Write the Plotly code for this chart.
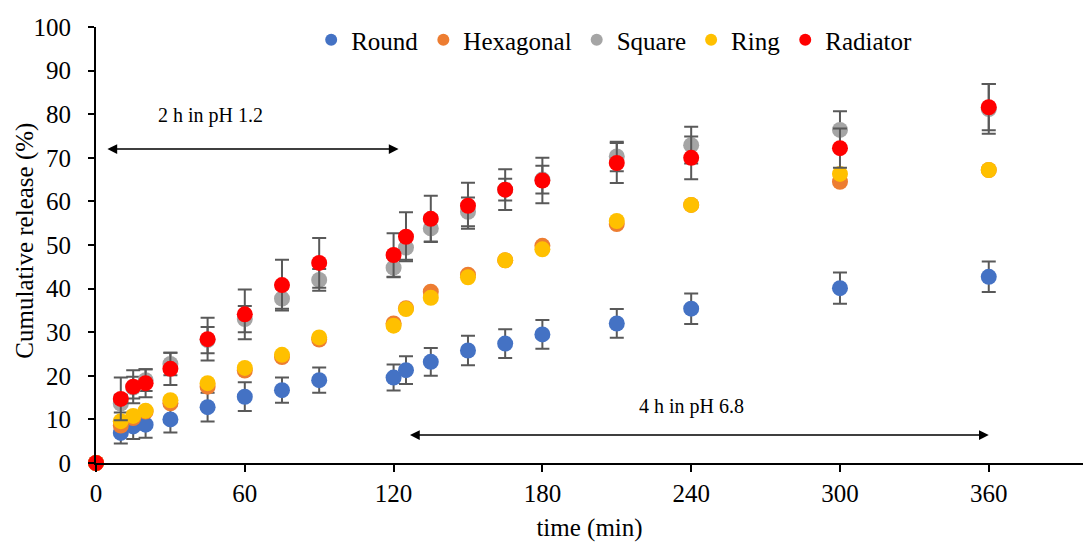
import plotly.graph_objects as go

# Sampling times (min)
time_min = [0, 10, 15, 20, 30, 45, 60, 75, 90, 120, 125, 135, 150, 165, 180, 210, 240, 300, 360]

# Cumulative release (%) per tablet geometry
round_rel = [0, 6.9, 8.4, 8.8, 10.0, 12.8, 15.2, 16.7, 19.0, 19.6, 21.3, 23.2, 25.8, 27.4, 29.5, 32.0, 35.4, 40.1, 42.7]
round_sd = [0, 2.4, 2.9, 3.0, 3.0, 3.3, 3.3, 2.9, 2.9, 3.0, 3.2, 3.2, 3.4, 3.3, 3.3, 3.3, 3.5, 3.6, 3.5]

hexagonal_rel = [0, 8.6, 10.3, 11.8, 13.7, 17.5, 21.2, 24.3, 28.3, 32.0, 35.5, 39.3, 43.2, 46.5, 49.8, 54.8, 59.2, 64.5, 67.2]

square_rel = [0, 13.6, 17.3, 19.0, 22.7, 28.2, 33.0, 37.7, 42.0, 44.8, 49.4, 53.8, 57.6, 62.7, 65.0, 70.3, 72.9, 76.4, 81.2]
square_sd = [0, 2.0, 2.5, 2.5, 2.6, 3.0, 3.0, 2.3, 2.5, 2.2, 2.8, 3.0, 3.3, 2.5, 3.2, 3.4, 4.2, 4.3, 5.7]

ring_rel = [0, 9.6, 10.8, 12.0, 14.4, 18.3, 21.8, 24.8, 28.8, 31.5, 35.3, 37.9, 42.6, 46.5, 49.0, 55.5, 59.2, 66.3, 67.2]

radiator_rel = [0, 14.7, 17.5, 18.3, 21.6, 28.4, 34.1, 40.8, 45.9, 47.7, 51.9, 56.0, 59.0, 62.7, 64.8, 68.8, 70.0, 72.2, 81.6]
radiator_sd = [0, 4.9, 3.8, 3.2, 3.7, 4.9, 5.7, 5.8, 5.7, 5.0, 5.6, 5.3, 5.3, 4.7, 5.2, 4.6, 4.9, 4.5, 5.3]

x_ticks = [0, 60, 120, 180, 240, 300, 360]
y_ticks = [0, 10, 20, 30, 40, 50, 60, 70, 80, 90, 100]

FONT = '"Times New Roman", "Liberation Serif", serif'
ERR_COLOR = "#595959"

series = [
    ("Round", round_rel, round_sd, "#4472C4"),
    ("Hexagonal", hexagonal_rel, None, "#ED7D31"),
    ("Square", square_rel, square_sd, "#A5A5A5"),
    ("Ring", ring_rel, None, "#FFC000"),
    ("Radiator", radiator_rel, radiator_sd, "#FF0000"),
]

fig = go.Figure()

for name, values, sd, color in series:
    err = None
    if sd is not None:
        err = dict(type="data", array=sd, visible=True, color=ERR_COLOR,
                   thickness=2, width=7)
    fig.add_trace(go.Scatter(
        x=time_min, y=values, mode="markers", name=name,
        marker=dict(size=16, color=color),
        error_y=err, cliponaxis=False, showlegend=False,
    ))

# Smaller symbols for the legend entries
for name, _, _, color in series:
    fig.add_trace(go.Scatter(
        x=[None], y=[None], mode="markers", name=name,
        marker=dict(size=12, color=color), showlegend=True,
    ))

# Phase arrows: acid stage and buffer stage
fig.add_annotation(x=122, y=72, ax=4, ay=72, xref="x", yref="y", axref="x", ayref="y",
                   text="", showarrow=True, arrowhead=2, startarrowhead=2,
                   arrowside="end+start", arrowsize=1.3, startarrowsize=1.3,
                   arrowwidth=1.5, arrowcolor="black")
fig.add_annotation(x=46, y=79.8, text="2 h in pH 1.2", showarrow=False,
                   font=dict(family=FONT, size=20, color="black"))

fig.add_annotation(x=360, y=6.4, ax=126, ay=6.4, xref="x", yref="y", axref="x", ayref="y",
                   text="", showarrow=True, arrowhead=2, startarrowhead=2,
                   arrowside="end+start", arrowsize=1.3, startarrowsize=1.3,
                   arrowwidth=1.5, arrowcolor="black")
fig.add_annotation(x=240, y=12.9, text="4 h in pH 6.8", showarrow=False,
                   font=dict(family=FONT, size=20, color="black"))

# Vertical axis title, set close to the tick labels
fig.add_annotation(x=0, y=0.51, xref="paper", yref="paper", xanchor="center",
                   yanchor="middle", xshift=-71, textangle=-90, showarrow=False,
                   text="Cumulative release (%)",
                   font=dict(family=FONT, size=25, color="black"))

fig.update_layout(
    width=1083, height=545,
    margin=dict(l=96, r=0, t=27, b=82),
    paper_bgcolor="white", plot_bgcolor="white",
    font=dict(family=FONT, size=25, color="black"),
    legend=dict(orientation="h", x=0.525, xanchor="center", y=0.97, yanchor="middle",
                font=dict(family=FONT, size=25, color="black"),
                bgcolor="rgba(0,0,0,0)", itemclick=False),
    xaxis=dict(
        range=[0, 398], tickvals=x_ticks, ticks="outside", ticklen=7, tickwidth=1.5,
        tickcolor="black", showline=True, linecolor="black", linewidth=2,
        showgrid=False, zeroline=False, automargin=True,
        title=dict(text="time (min)", standoff=12, font=dict(family=FONT, size=25)),
        tickfont=dict(family=FONT, size=25),
    ),
    yaxis=dict(
        range=[0, 100], tickvals=y_ticks, ticks="outside", ticklen=6, tickwidth=1.5,
        tickcolor="black", showline=True, linecolor="black", linewidth=2,
        showgrid=False, zeroline=False, ticklabelstandoff=12,
        tickfont=dict(family=FONT, size=25),
    ),
)

fig.write_html("out.html")
